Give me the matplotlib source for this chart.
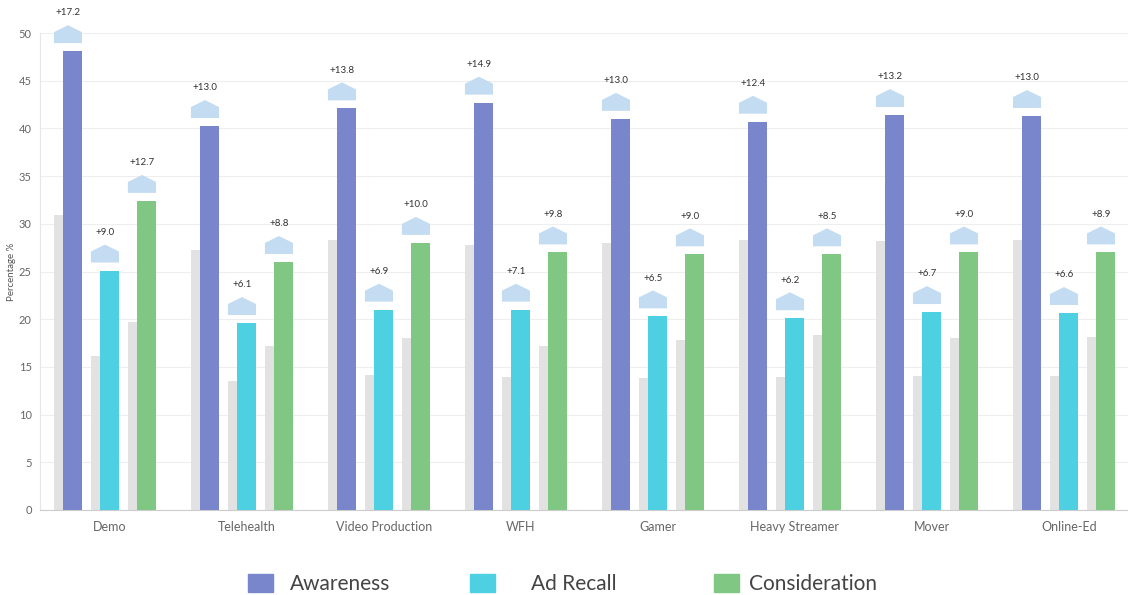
import matplotlib.pyplot as plt
from matplotlib.patches import Polygon, Rectangle
from matplotlib.transforms import ScaledTranslation
import numpy as np

plt.rcParams['font.family'] = ['Lato', 'DejaVu Sans']

categories = ['Demo', 'Telehealth', 'Video Production', 'WFH', 'Gamer',
              'Heavy Streamer', 'Mover', 'Online-Ed']
series = ['Awareness', 'Ad Recall', 'Consideration']

# exposed (coloured) and control (grey) values per series
awareness_exposed = [48.1, 40.25, 42.1, 42.7, 41.0, 40.7, 41.4, 41.3]
awareness_control = [30.9, 27.25, 28.3, 27.8, 28.0, 28.3, 28.2, 28.3]
recall_exposed = [25.1, 19.6, 21.0, 21.0, 20.3, 20.1, 20.75, 20.65]
recall_control = [16.1, 13.5, 14.1, 13.9, 13.8, 13.9, 14.05, 14.05]
consid_exposed = [32.4, 26.0, 28.0, 27.0, 26.8, 26.8, 27.0, 27.0]
consid_control = [19.7, 17.2, 18.0, 17.2, 17.8, 18.3, 18.0, 18.1]

awareness_lift = ['+17.2', '+13.0', '+13.8', '+14.9', '+13.0', '+12.4', '+13.2', '+13.0']
recall_lift = ['+9.0', '+6.1', '+6.9', '+7.1', '+6.5', '+6.2', '+6.7', '+6.6']
consid_lift = ['+12.7', '+8.8', '+10.0', '+9.8', '+9.0', '+8.5', '+9.0', '+8.9']

colors = ['#7986cb', '#4dd0e1', '#81c784']
grey = '#e2e2e2'
house_color = '#c3dcf2'

exposed = [awareness_exposed, recall_exposed, consid_exposed]
control = [awareness_control, recall_control, consid_control]
lifts = [awareness_lift, recall_lift, consid_lift]

fig = plt.figure(figsize=(11.28, 5.95), dpi=100)
ax = fig.add_axes([40 / 1128, 85 / 595, 1 - 40 / 1128, 477 / 595])

x = np.arange(len(categories))
bw = 0.139
offs = [-0.27, 0.0, 0.27]
shift = 0.033

for i in range(3):
    pc = x + offs[i]
    ax.bar(pc - shift, control[i], width=bw, color=grey, zorder=2)
    ax.bar(pc + shift, exposed[i], width=bw, color=colors[i], zorder=3)
    for j in range(len(categories)):
        top = exposed[i][j]
        l = pc[j] - shift - bw / 2
        r = pc[j] + shift + bw / 2
        y0 = top + 0.84
        y1 = y0 + 1.15
        y2 = y1 + 0.73
        poly = Polygon([(l, y0), (r, y0), (r, y1), ((l + r) / 2, y2), (l, y1)],
                       closed=True, color=house_color, zorder=3, clip_on=False, lw=0)
        ax.add_patch(poly)
        ax.text(pc[j], top + 4.0, lifts[i][j], ha='center', va='center',
                fontsize=7, color='#333333', clip_on=False)

ax.set_xlim(-0.474, 7.467)
ax.set_ylim(0, 50)
ax.set_yticks(np.arange(0, 51, 5))
ax.set_xticks(x)
ax.set_xticklabels(categories)
ax.tick_params(axis='both', length=0, colors='#666666')
ax.tick_params(axis='y', labelsize=8, pad=6)
ax.tick_params(axis='x', labelsize=9, pad=8)
for lab in ax.get_xticklabels():
    lab.set_transform(lab.get_transform() + ScaledTranslation(0.05, 0, fig.dpi_scale_trans))
ax.grid(axis='y', color='#eeeeee', lw=0.8, zorder=0)
ax.set_axisbelow(True)
for s in ['top', 'right']:
    ax.spines[s].set_visible(False)
ax.spines['left'].set_color('#e6e6e6')
ax.spines['bottom'].set_color('#cccccc')
ax.set_ylabel('Percentage %', fontsize=7, color='#555555')
ax.yaxis.set_label_coords(-24 / 1088, 0.5)

# legend
leg_sq = [248, 470, 714]
leg_txt = [290, 531, 749]
for i in range(3):
    fig.patches.append(Rectangle((leg_sq[i] / 1128, 3 / 595), 25 / 1128, 18 / 595,
                                 transform=fig.transFigure, color=colors[i]))
    fig.text(leg_txt[i] / 1128, 11 / 595, series[i], fontsize=15, color='#444444',
             va='center', ha='left')

fig.savefig('out.png', dpi=100)
